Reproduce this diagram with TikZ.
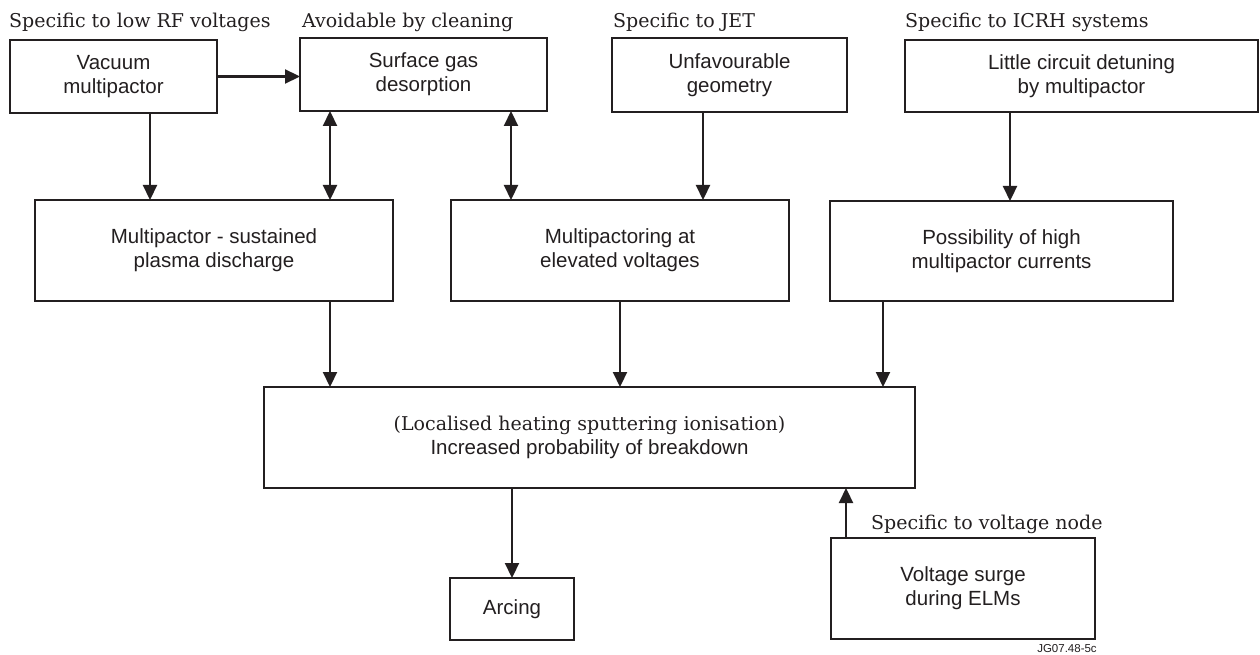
\documentclass[tikz,border=0pt]{standalone}
\usepackage{fontspec}
\setmainfont{DejaVu Serif}
\setsansfont{Liberation Sans}
\usetikzlibrary{arrows.meta}
\definecolor{ink}{HTML}{231F20}
\tikzset{
  box/.style={draw=ink, line width=2.6pt, inner sep=0pt, outer sep=0pt, align=center,
    text=ink, font=\sffamily\fontsize{20.5}{24}\selectfont},
  lab/.style={anchor=base west, inner sep=0pt, text=ink, font=\fontsize{19}{22}\selectfont},
  arr/.style={draw=ink, line width=2.2pt, -{Triangle[length=15pt,width=14pt]}},
  darr/.style={draw=ink, line width=2.2pt, {Triangle[length=15pt,width=14pt]}-{Triangle[length=15pt,width=14pt]}},
}
\begin{document}
\begin{tikzpicture}[x=1pt,y=-1pt]
\useasboundingbox[fill=white] (0,0) rectangle (1260,655);
% boxes
\node[box, minimum width=207pt, minimum height=73pt] (vac) at (113.5,76.5) {Vacuum\\multipactor};
\node[box, minimum width=247pt, minimum height=73pt] (surf) at (423.5,74.5) {Surface gas\\desorption};
\node[box, minimum width=235pt, minimum height=74pt] (unfav) at (729.5,75) {Unfavourable\\geometry};
\node[box, minimum width=353pt, minimum height=72pt] (little) at (1081.5,76) {Little circuit detuning\\by multipactor};
\node[box, minimum width=358pt, minimum height=101pt] (mp) at (214,250.5) {Multipactor - sustained\\plasma discharge};
\node[box, minimum width=338pt, minimum height=101pt] (mpe) at (620,250.5) {Multipactoring at\\elevated voltages};
\node[box, minimum width=343pt, minimum height=100pt] (poss) at (1001.5,251) {Possibility of high\\multipactor currents};
\node[box, minimum width=651pt, minimum height=101pt] (cent) at (589.5,437.5) {{\rmfamily\fontsize{19}{24}\selectfont (Localised heating sputtering ionisation)}\\Increased probability of breakdown};
\node[box, minimum width=124pt, minimum height=62pt] (arc) at (512,609) {Arcing};
\node[box, minimum width=264pt, minimum height=101pt] (surge) at (963,588.5) {Voltage surge\\during ELMs};
% labels
\node[lab] (l1) at (9,28) {Specific to low RF voltages};
\node[lab] (l2) at (302,28) {Avoidable by cleaning};
\node[lab] (l3) at (613,28) {Specific to JET};
\node[lab] (l4) at (905,28) {Specific to ICRH systems};
\node[lab] (l5) at (871,529) {Specific to voltage node};
\node[inner sep=0pt, text=ink, font=\sffamily\fontsize{11.5}{12}\selectfont] (jg) at (1067,649) {JG07.48-5c};
% connectors
\draw[arr] (vac.east) -- (vac.east -| surf.west);
\draw[arr] ([xshift=36.5pt]vac.south) -- ([xshift=-64pt]mp.north);
\draw[darr] ([xshift=-93.5pt]surf.south) -- ([xshift=116pt]mp.north);
\draw[darr] ([xshift=87.5pt]surf.south) -- ([xshift=-109pt]mpe.north);
\draw[arr] ([xshift=-26.5pt]unfav.south) -- ([xshift=83pt]mpe.north);
\draw[arr] ([xshift=-71.5pt]little.south) -- ([xshift=8.5pt]poss.north);
\draw[arr] ([xshift=116pt]mp.south) -- ([xshift=-259.5pt]cent.north);
\draw[arr] (mpe.south) -- ([xshift=30.5pt]cent.north);
\draw[arr] ([xshift=-118.5pt]poss.south) -- ([xshift=293.5pt]cent.north);
\draw[arr] ([xshift=-77.5pt]cent.south) -- (arc.north);
\draw[arr] ([xshift=-117pt]surge.north) -- ([xshift=256.5pt]cent.south);
\end{tikzpicture}
\end{document}
